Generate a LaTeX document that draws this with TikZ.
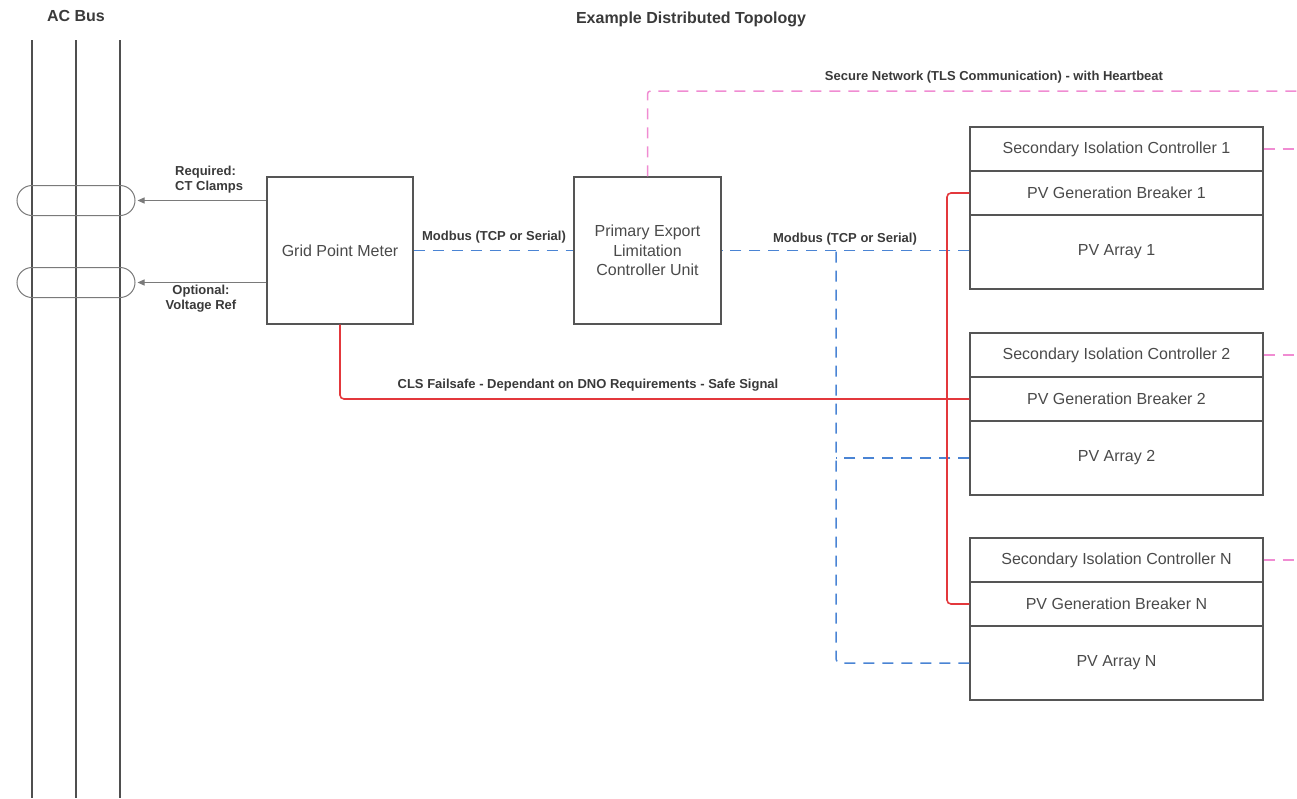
\documentclass[tikz,border=0pt]{standalone}
\usepackage{fontspec}
\setmainfont{Liberation Sans}
\usetikzlibrary{arrows.meta,calc}
\definecolor{boxgray}{HTML}{555555}
\definecolor{txtgray}{HTML}{4A4A4A}
\definecolor{lblgray}{HTML}{3A3A3A}
\definecolor{busgray}{HTML}{4F4F4F}
\definecolor{clampgray}{HTML}{7A7A7A}
\definecolor{mbblue}{HTML}{4A84D4}
\definecolor{netpink}{HTML}{F08CD2}
\definecolor{clsred}{HTML}{E3383C}
\begin{document}
\begin{tikzpicture}[x=1pt,y=-1pt,
  box/.style={draw=boxgray,line width=1.1pt,text=txtgray,inner sep=0pt,align=center,
     font=\fontsize{16}{19.5}\selectfont},
  clamp/.style={draw=clampgray,line width=1pt,rounded corners=15pt,minimum width=118pt,minimum height=30pt,inner sep=0pt},
  busline/.style={draw=busgray,line width=2pt},
  sig/.style={draw=clampgray,line width=1pt,-{Triangle[length=7pt,width=6pt]},shorten >=2pt},
  lbl/.style={text=lblgray,inner sep=0pt,font=\bfseries\fontsize{13}{15}\selectfont},
  ttl/.style={text=lblgray,inner sep=0pt,font=\bfseries\fontsize{16}{18}\selectfont},
  modbus/.style={draw=mbblue,line width=1.5pt,dash pattern=on 11pt off 8pt},
  secure/.style={draw=netpink,line width=1.5pt,dash pattern=on 11pt off 8pt},
  cls/.style={draw=clsred,line width=1.6pt}
]
\useasboundingbox (0,0) rectangle (1297,798);

% titles
\node[ttl] (acbus) at (76,16) {AC Bus};
\node[ttl] (title) at (691,19) {Example Distributed Topology};

% bus lines
\coordinate (b1t) at (32,40); \coordinate (b1b) at (32,798);
\coordinate (b2t) at (76,40); \coordinate (b2b) at (76,798);
\coordinate (b3t) at (120,40); \coordinate (b3b) at (120,798);
\draw[busline] (b1t) -- (b1b);
\draw[busline] (b2t) -- (b2b);
\draw[busline] (b3t) -- (b3b);

% clamps
\node[clamp] (ct) at (76,200.5) {};
\node[clamp] (vr) at (76,282.5) {};

% main boxes
\node[box,minimum width=146pt,minimum height=147pt] (gpm) at (340,250.5) {Grid Point Meter};
\node[box,minimum width=147pt,minimum height=147pt] (pelc) at (647.5,250.5) {Primary Export\\Limitation\\Controller Unit};

% right column boxes
\foreach \n/\off in {1/0,2/206,N/411}{
  \node[box,minimum width=293pt,minimum height=44pt] (sic\n) at (1116.5,149+\off) {Secondary Isolation Controller \n};
  \node[box,minimum width=293pt,minimum height=44pt] (brk\n) at (1116.5,193+\off) {PV Generation Breaker \n};
  \node[box,minimum width=293pt,minimum height=74pt] (arr\n) at (1116.5,252+\off) {PV Array \n};
}

% CT / voltage connectors
\draw[sig] (gpm.west |- ct.east) -- (ct.east);
\draw[sig] (gpm.west |- vr.east) -- (vr.east);
\node[lbl,align=left,anchor=west] (reqlbl) at (175,180) {Required:\\CT Clamps};
\node[lbl,align=center] (optlbl) at (201,299) {Optional:\\Voltage Ref};

% modbus
\draw[modbus] (gpm.east) -- (pelc.west);
\node[lbl] (mb1) at (494,237) {Modbus (TCP or Serial)};
\coordinate (bj) at (836,250.5);
\draw[modbus] (pelc.east -| arr1.west) -- (pelc.east);
\draw[modbus,rounded corners=4pt] (arrN.west) -| (bj);
\draw[modbus] (arr2.west) -- (bj |- arr2.west);
\node[lbl] (mb2) at (845,239) {Modbus (TCP or Serial)};

% secure network
\coordinate (netend) at (1297,91);
\draw[secure,rounded corners=3pt] (pelc.north) |- (netend);
\node[lbl] (seclbl) at (994,77) {Secure Network (TLS Communication) - with Heartbeat};
\draw[secure] (sic1.east) -- (sic1.east -| netend);
\draw[secure] (sic2.east) -- (sic2.east -| netend);
\draw[secure] (sicN.east) -- (sicN.east -| netend);

% CLS failsafe
\draw[cls,rounded corners=4pt] (gpm.south) |- (brk2.west);
\node[lbl] (clslbl) at (588,385) {CLS Failsafe - Dependant on DNO Requirements - Safe Signal};
\coordinate (rx) at (947,400);
\draw[cls,rounded corners=4pt] (brk1.west) -| (rx) |- (brkN.west);
\end{tikzpicture}
\end{document}
